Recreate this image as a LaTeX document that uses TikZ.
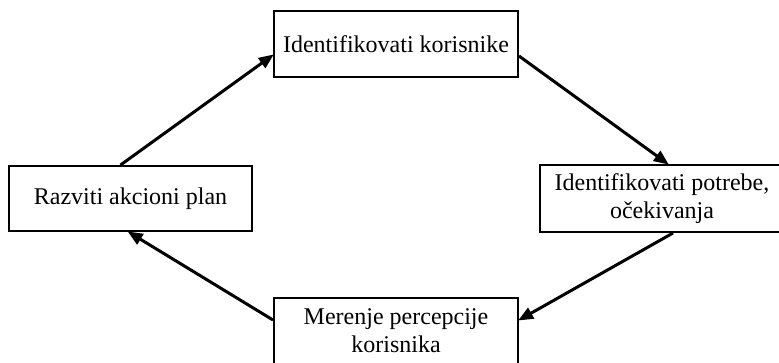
\documentclass[tikz,border=0pt]{standalone}
\usepackage{fontspec}
\setmainfont{Liberation Serif}
\usetikzlibrary{arrows.meta}
\tikzset{
  box/.style={draw=black, line width=2pt, fill=white, minimum width=244pt, minimum height=66pt,
    inner sep=0pt, align=center, font=\fontsize{24}{28}\selectfont},
  flow/.style={line width=3pt, -{Triangle[length=15pt,width=12pt]}, shorten >=-1pt}
}
\begin{document}
\begin{tikzpicture}[x=1pt,y=-1pt]
\useasboundingbox (0,0) rectangle (779,362);
\clip (0,0) rectangle (779,362);
\node[box] (T) at (396,44) {Identifikovati korisnike};
\node[box, minimum width=243pt, minimum height=65pt] (L) at (130.5,198.5) {Razviti akcioni plan};
\node[box, minimum height=67pt] (R) at (662,198.5) {Identifikovati potrebe,\\ očekivanja};
\node[box] (B) at (396,331) {Merenje percepcije\\ korisnika};
\draw[flow] ([xshift=-10pt]L.north) -- ([yshift=-11pt]T.west);
\draw[flow] ([yshift=-12pt]T.east) -- ([xshift=6pt]R.north);
\draw[flow] ([xshift=11pt]R.south) -- ([yshift=11pt]B.east);
\draw[flow] ([yshift=11pt]B.west) -- ([xshift=-2pt]L.south);
\end{tikzpicture}
\end{document}
